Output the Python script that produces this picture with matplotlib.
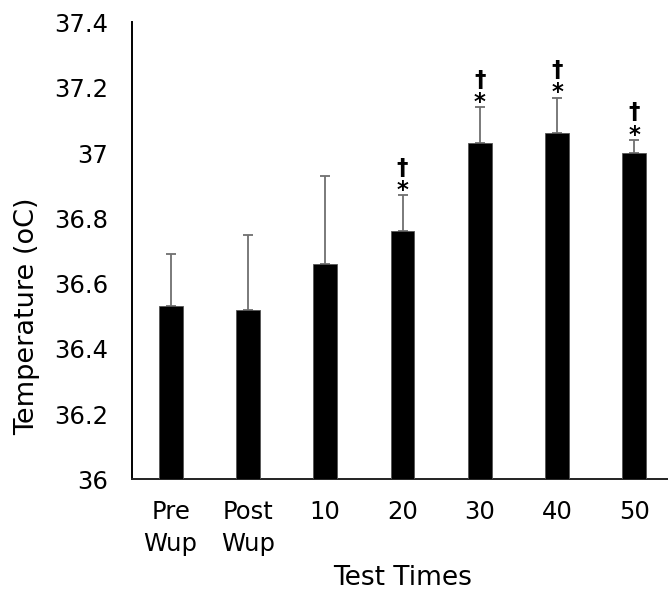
import numpy as np
import matplotlib.pyplot as plt
import matplotlib as mpl

mpl.rcParams["font.family"] = "DejaVu Sans"

# Core temperature at each test time (mean, upper SD)
times      = ["Pre\nWup", "Post\nWup", "10", "20", "30", "40", "50"]
temp_mean  = [36.53, 36.52, 36.66, 36.76, 37.03, 37.06, 37.00]
temp_sd    = [0.16, 0.23, 0.27, 0.11, 0.11, 0.11, 0.04]
# significance markers: * vs Pre Wup, † vs Post Wup
sig_star   = [False, False, False, True, True, True, True]
sig_dagger = [False, False, False, True, True, True, True]

yticks = [36, 36.2, 36.4, 36.6, 36.8, 37, 37.2, 37.4]

fig = plt.figure(figsize=(6.68, 5.96), dpi=100)
ax = fig.add_axes([0.1976, 0.1955, 0.8099, 0.7668])

x = np.arange(len(times))
ax.bar(x, temp_mean, width=0.31, color="black", edgecolor="#555555",
       linewidth=0.6, zorder=3)
ax.errorbar(x, temp_mean, yerr=[np.zeros(len(x)), temp_sd], fmt="none",
            ecolor="#707070", elinewidth=1.3, capsize=3.4, capthick=1.3, zorder=2)

# dagger stacked over asterisk, sitting just above each error cap
for xi, m, s, st, dg in zip(x, temp_mean, temp_sd, sig_star, sig_dagger):
    marks = [c for c, on in (("†", dg), ("*", st)) if on]
    if not marks:
        continue
    ax.annotate("\n".join(marks), (xi, m + s), xytext=(0, -5.0),
                textcoords="offset points", ha="center", va="bottom",
                multialignment="center", linespacing=0.98,
                fontsize=16.5, fontweight="bold")

ax.set_ylim(36, 37.4)
ax.set_xlim(-0.5, len(times) - 0.5)
ax.set_yticks(yticks)
ax.set_yticklabels([f"{v:g}" for v in yticks])
ax.set_xticks(x)
ax.set_xticklabels(times, linespacing=1.38)
ax.tick_params(axis="both", length=0, labelsize=17.5)
ax.tick_params(axis="y", pad=17)
ax.tick_params(axis="x", pad=15)

for side in ("top", "right"):
    ax.spines[side].set_visible(False)
ax.spines["left"].set_linewidth(1.4)
ax.spines["bottom"].set_linewidth(1.4)
ax.spines["bottom"].set_color("#222222")

ax.set_xlabel("Test Times", fontsize=19, va="center")
ax.xaxis.set_label_coords(0.5, -0.2155)
ax.set_ylabel("Temperature (oC)", fontsize=19.5, va="center")
ax.yaxis.set_label_coords(-0.194, 0.358)

fig.savefig("out.png", dpi=100)
